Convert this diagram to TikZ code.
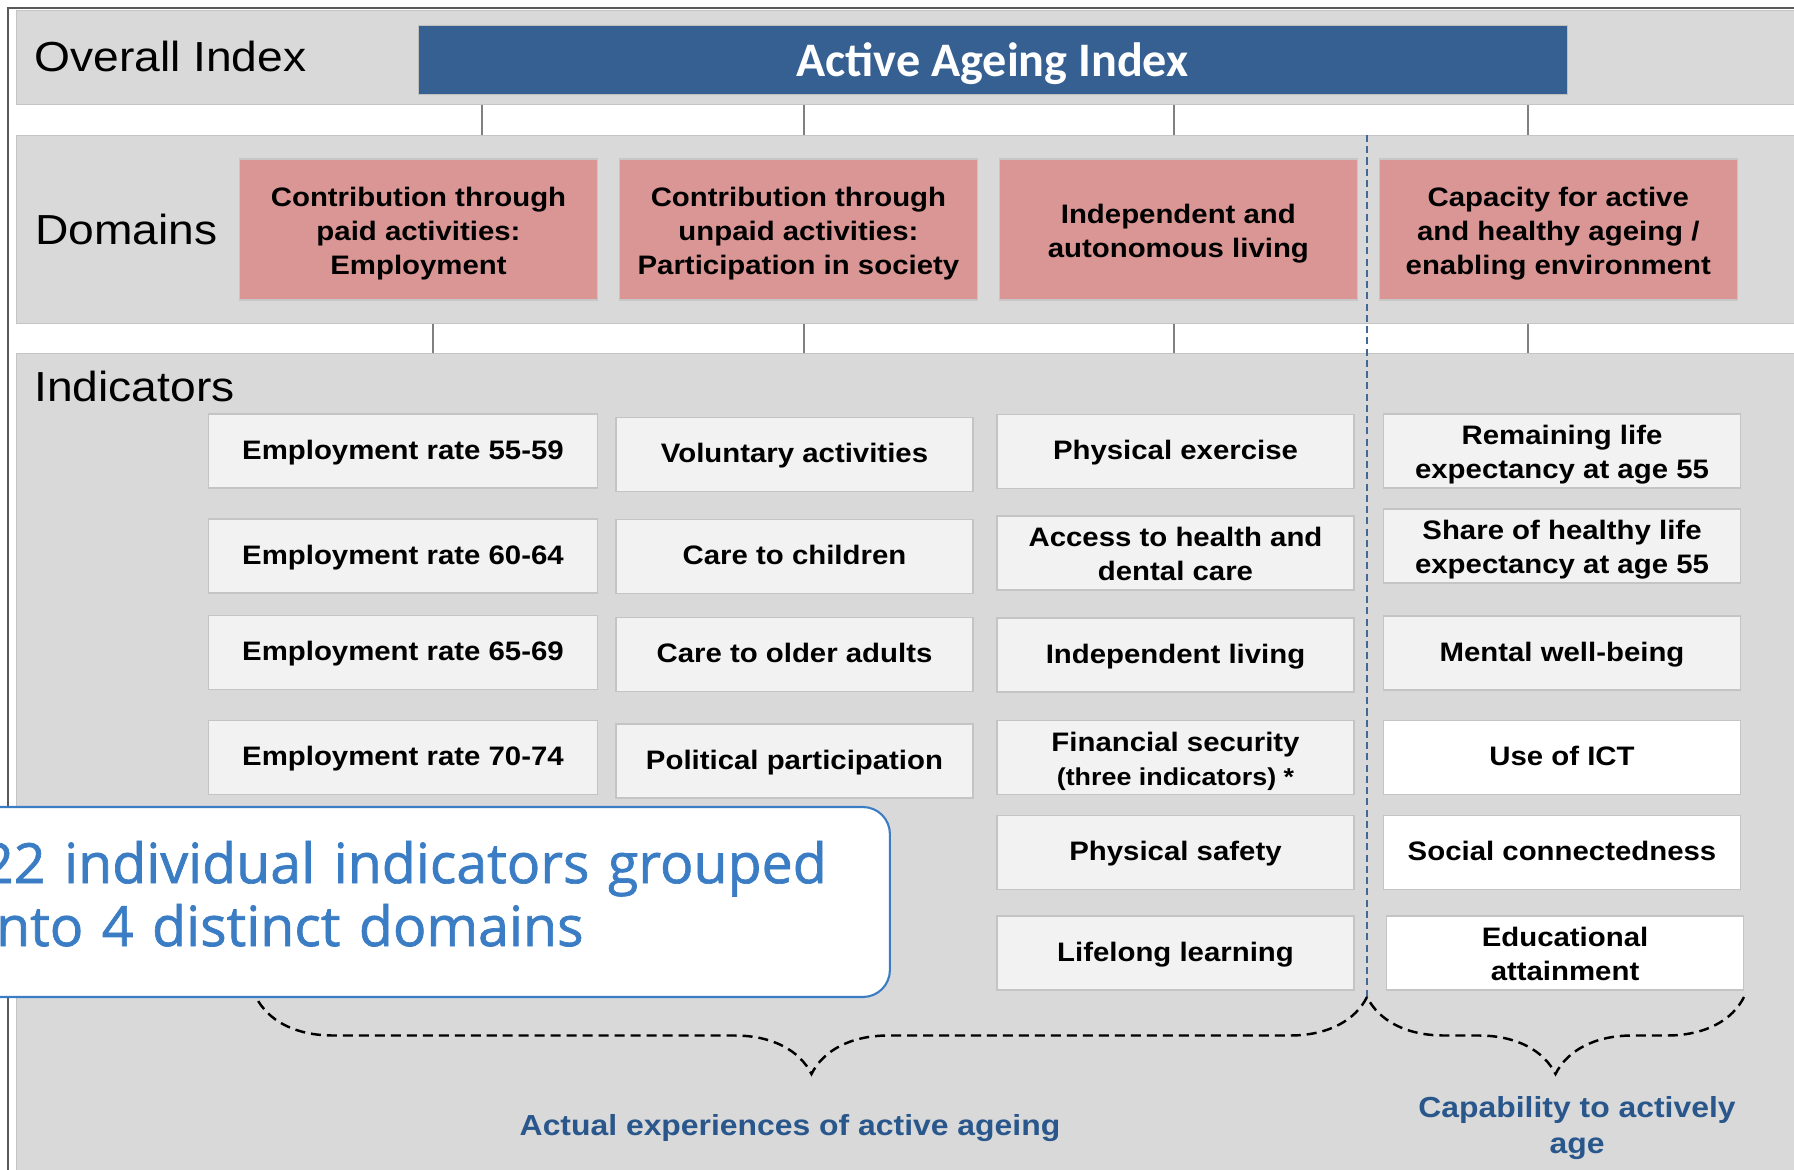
\documentclass[tikz,border=0pt]{standalone}
\usepackage{fontspec}
\setmainfont[FakeStretch=1.1]{Liberation Sans}
\newfontfamily\calibri{Carlito}
\newfontfamily\segoe[FakeBold=1.2]{Open Sans}
\usepackage{tikz}
\usetikzlibrary{positioning,decorations.pathreplacing}
\usepackage{xcolor}
\definecolor{aaiblue}{RGB}{54,96,146}
\definecolor{aaipink}{RGB}{218,150,148}
\definecolor{aaigray}{RGB}{217,217,217}
\definecolor{aailight}{RGB}{242,242,242}
\definecolor{aaiedge}{RGB}{196,196,196}
\definecolor{aaitick}{RGB}{128,128,128}
\definecolor{aaiframe}{RGB}{89,89,89}
\definecolor{aaidash}{RGB}{68,104,150}
\definecolor{aaitext}{RGB}{41,87,140}
\definecolor{aainote}{RGB}{59,125,196}
\tikzstyle{band} = [rectangle, anchor=north west, inner sep=0, draw=aaiedge, fill=aaigray, line width=0.8pt]
\tikzstyle{headline} = [anchor=base west, inner sep=0, font=\fontsize{23.9}{28}\selectfont]
\tikzstyle{domainbox} = [rectangle, minimum width=7.16cm, minimum height=2.82cm, text centered, text depth=1.5pt, draw=black!22, fill=aaipink, line width=0.8pt, font=\fontsize{15.2}{19.35}\selectfont\bfseries]
\tikzstyle{indbox} = [rectangle, minimum width=7.14cm, minimum height=1.48cm, text centered, text depth=1.5pt, inner sep=0, draw=aaiedge, fill=aailight, line width=0.9pt, font=\fontsize{15.2}{19.35}\selectfont\bfseries]
\tikzstyle{linktick} = [draw=aaitick, line width=1.1pt]
\tikzstyle{divider} = [draw=aaidash, line width=0.9pt, dash pattern=on 4pt off 2.4pt]
\tikzstyle{bracket} = [decorate, decoration={brace, amplitude=1.54cm, aspect=0.5}, line width=1.4pt, dash pattern=on 5.7pt off 3.4pt]
\tikzstyle{notebox} = [rectangle, rounded corners=0.54cm, draw=aainote, fill=white, line width=1.2pt]
\tikzstyle{grouplabel} = [text=aaitext, inner sep=0, font=\fontsize{16.5}{20.5}\selectfont\bfseries]

\begin{document}
\begin{tikzpicture}[x=0.02cm, y=-0.02cm, node distance=7.6cm]
\useasboundingbox (0,0) rectangle (1794,1169);
\fill [white] (0,0) rectangle (1794,1169);

% Bands: overall index, domains, indicators
\node (overall) [band, minimum width=35.8cm, minimum height=1.88cm] at (16,10) {};
\node (domband) [band, minimum width=35.8cm, minimum height=3.76cm] at (16,135) {};
\node (indband) [band, minimum width=35.8cm, minimum height=16.6cm] at (16,353) {};
\draw [draw=aaiframe, line width=1.4pt] (8,1180) -- (8,8) -- (1800,8);

\node (overalllabel) [headline] at (34,72) {Overall Index};
\node (domainlabel) [headline] at (35,244) {Domains};
\node (indlabel) [headline] at (34,401) {Indicators};

% Overall index
\node (aai) [rectangle, minimum width=22.98cm, minimum height=1.38cm, fill=aaiblue, draw=black!25, text=white, text depth=0pt, font=\calibri\bfseries\fontsize{27.4}{32}\selectfont] at (992.5,59.5) {Active Ageing Index};

% Links between the bands
\coordinate (ta) at (482,0);
\coordinate (tb) at (433,0);
\coordinate (tc) at (804,0);
\coordinate (td) at (1174,0);
\coordinate (te) at (1528,0);
\draw [linktick] (overall.south -| ta) -- (domband.north -| ta);
\draw [linktick] (overall.south -| tc) -- (domband.north -| tc);
\draw [linktick] (overall.south -| td) -- (domband.north -| td);
\draw [linktick] (overall.south -| te) -- (domband.north -| te);
\draw [linktick] (domband.south -| tb) -- (indband.north -| tb);
\draw [linktick] (domband.south -| tc) -- (indband.north -| tc);
\draw [linktick] (domband.south -| td) -- (indband.north -| td);
\draw [linktick] (domband.south -| te) -- (indband.north -| te);

% Experiences / capability split
\coordinate (split) at (1367,997);
\draw [divider] (domband.north -| split) -- (split);

% Domain 1: Employment
\node (dom1) [domainbox] at (418.5,229.5) {
\begin{tabular}[b]{c}
Contribution through\\
paid activities:\\
Employment
\end{tabular}
};

% Domain 2: Participation in society
\node (dom2) [domainbox, right of=dom1] {
\begin{tabular}[b]{c}
Contribution through\\
unpaid activities:\\
Participation in society
\end{tabular}
};

% Domain 3: Independent living
\node (dom3) [domainbox, right of=dom2] {
\begin{tabular}[b]{c}
Independent and\\
autonomous living
\end{tabular}
};

% Domain 4: Capacity
\node (dom4) [domainbox, right of=dom3] {
\begin{tabular}[b]{c}
Capacity for active\\
and healthy ageing /\\
enabling environment
\end{tabular}
};

% Indicators: employment
\node (emp1) [indbox, minimum width=7.78cm] at (403,451) {Employment rate 55-59};
\node (emp2) [indbox, minimum width=7.78cm] at (403,556) {Employment rate 60-64};
\node (emp3) [indbox, minimum width=7.78cm] at (403,652.5) {Employment rate 65-69};
\node (emp4) [indbox, minimum width=7.78cm] at (403,757.5) {Employment rate 70-74};

% Indicators: participation
\node (part1) [indbox] at (794.5,454.5) {Voluntary activities};
\node (part2) [indbox] at (794.5,556.5) {Care to children};
\node (part3) [indbox] at (794.5,654.5) {Care to older adults};
\node (part4) [indbox] at (794.5,761) {Political participation};

% Indicators: independent living
\node (indep1) [indbox] at (1175.5,451.5) {Physical exercise};
\node (indep2) [indbox] at (1175.5,553) {
\begin{tabular}[b]{c}
Access to health and\\
dental care
\end{tabular}
};
\node (indep3) [indbox] at (1175.5,655) {Independent living};
\node (indep4) [indbox] at (1175.5,757.5) {
\begin{tabular}[b]{c}
Financial security\\
{\fontsize{13.9}{19.35}\selectfont (three indicators) *}
\end{tabular}
};
\node (indep5) [indbox] at (1175.5,852.5) {Physical safety};
\node (indep6) [indbox] at (1175.5,953) {Lifelong learning};

% Indicators: capacity
\node (cap1) [indbox] at (1562,451) {
\begin{tabular}[b]{c}
Remaining life\\
expectancy at age 55
\end{tabular}
};
\node (cap2) [indbox] at (1562,546) {
\begin{tabular}[b]{c}
Share of healthy life\\
expectancy at age 55
\end{tabular}
};
\node (cap3) [indbox] at (1562,653) {Mental well-being};
\node (cap4) [indbox, fill=white] at (1562,757.5) {Use of ICT};
\node (cap5) [indbox, fill=white] at (1562,852.5) {Social connectedness};
\node (cap6) [indbox, fill=white] at (1565,953) {
\begin{tabular}[b]{c}
Educational\\
attainment
\end{tabular}
};

% Braces and group labels
\coordinate (braceL) at (256,997);
\coordinate (braceR) at (1744,997);
\draw [bracket] (split) -- (braceL);
\draw [bracket] (braceR) -- (split);
\node (actual) [grouplabel, anchor=base] at (790,1135) {Actual experiences of active ageing};
\node (capable) [grouplabel] at (1577,1128) {
\begin{tabular}{c}
Capability to actively\\
age
\end{tabular}
};

% Note
\node (note) [notebox, minimum width=18.6cm, minimum height=3.8cm, text width=17.72cm, inner xsep=0.44cm, align=left, text=aainote, font=\segoe\fontsize{31.6}{35.8}\selectfont] at (425,902) {
\begin{tabular}{@{}l@{}}
22 individual indicators grouped\\
into 4 distinct domains
\end{tabular}
};

\end{tikzpicture}
\end{document}
